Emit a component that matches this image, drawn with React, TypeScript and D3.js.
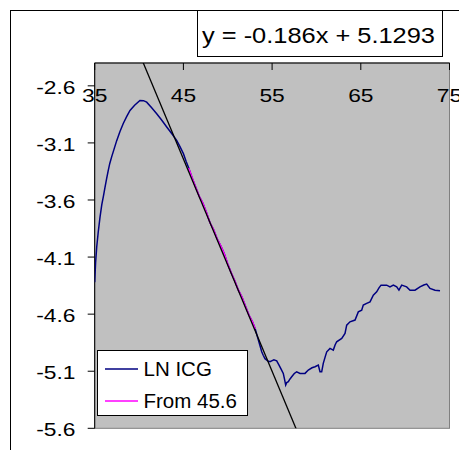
import React from "react";
import * as d3 from "d3";

const xTicks = [35, 45, 55, 65, 75];
const yTicks = [-5.6, -5.1, -4.6, -4.1, -3.6, -3.1, -2.6];

const pinkX = [45.6, 46.0, 46.4, 46.8, 47.2, 47.6, 48.0, 48.4, 48.8, 49.2, 49.6, 50.0, 50.4, 50.8, 51.2, 51.6, 52.0, 52.4, 52.8, 53.1];
const pinkY = [-3.32, -3.41, -3.49, -3.57, -3.63, -3.71, -3.80, -3.86, -3.94, -4.0, -4.07, -4.16, -4.24, -4.31, -4.39, -4.45, -4.53, -4.61, -4.67, -4.73];

const blueX = [
  35.0, 35.1, 35.23, 35.4, 35.6, 35.8, 36.0, 36.16, 36.35, 36.53, 36.7, 36.92, 37.2, 37.48, 37.85, 38.22, 38.6, 38.98, 39.5, 40.1,
  40.5, 40.86, 41.4, 41.99, 42.5, 43.12, 43.7, 44.24, 44.6, 45.0, 45.3,
  45.6, 46.0, 46.4, 46.8, 47.2, 47.6, 48.0, 48.4, 48.8, 49.2, 49.6, 50.0, 50.4, 50.8, 51.2, 51.6, 52.0, 52.4, 52.8, 53.1,
  53.5, 53.83, 54.0, 54.2, 54.5, 54.76, 54.95, 55.2, 55.52, 55.78, 56.0, 56.26, 56.4, 56.53, 56.65, 56.83, 57.0, 57.21, 57.5, 57.77,
  58.15, 58.71, 59.08, 59.5, 59.84, 60.21, 60.4, 60.59, 60.77, 61.0, 61.16, 61.53, 61.9, 62.1, 62.28, 62.85, 63.22, 63.41, 63.78, 64.35,
  64.72, 65.1, 65.28, 65.66, 66.04, 66.41, 66.79, 67.05, 67.28, 67.92, 68.29, 68.67, 69.05, 69.3, 69.61, 70.17, 70.55, 71.11, 71.67, 72.1,
  72.43, 72.8, 73.37, 73.93,
];
const blueY = [
  -4.32, -4.15, -4.01, -3.88, -3.75, -3.64, -3.56, -3.49, -3.41, -3.34, -3.28, -3.22, -3.15, -3.08, -3.0, -2.93, -2.87, -2.815, -2.77, -2.728,
  -2.73, -2.743, -2.79, -2.844, -2.895, -2.961, -3.02, -3.078, -3.13, -3.194, -3.26,
  -3.32, -3.41, -3.49, -3.57, -3.63, -3.71, -3.80, -3.86, -3.94, -4.0, -4.07, -4.16, -4.24, -4.31, -4.39, -4.45, -4.53, -4.61, -4.67, -4.73,
  -4.84, -4.93, -4.96, -4.99, -5.01, -5.017, -5.009, -5.0, -5.009, -5.046, -5.08, -5.119, -5.17, -5.221, -5.2, -5.192, -5.17, -5.149, -5.12, -5.105,
  -5.119, -5.119, -5.09, -5.07, -5.061, -5.046, -5.105, -5.105, -5.031, -4.97, -4.93, -4.9, -4.915, -4.87, -4.842, -4.813, -4.769, -4.696, -4.667, -4.652,
  -4.58, -4.565, -4.521, -4.506, -4.492, -4.434, -4.405, -4.37, -4.346, -4.346, -4.361, -4.346, -4.361, -4.39, -4.346, -4.361, -4.39, -4.39, -4.361, -4.345,
  -4.337, -4.375, -4.39, -4.396,
];

const trendSlope = -0.186;
const trendIntercept = 5.1293;
const equationText = "y = -0.186x + 5.1293";
const legendLabels = ["LN ICG", "From 45.6"];

const W = 459;
const H = 450;
const plot = { left: 94.7, right: 449.5, top: 63, bottom: 428.3 };
const FONT = "'Liberation Sans', Arial, sans-serif";
const TICK_STRETCH = 1.2;

export default function App() {
  const x = d3.scaleLinear().domain([35, 75]).range([plot.left, plot.right]);
  const y = d3.scaleLinear().domain([-5.6, -2.4]).range([plot.bottom, plot.top]);
  const line = d3
    .line<[number, number]>()
    .x((d) => x(d[0]))
    .y((d) => y(d[1]));
  const blue = blueX.map((v, i) => [v, blueY[i]] as [number, number]);
  const pink = pinkX.map((v, i) => [v, pinkY[i]] as [number, number]);
  const trend: [number, number][] = [35, 75].map((v) => [v, trendSlope * v + trendIntercept]);

  return (
    <svg
      width={W}
      height={H}
      style={{ position: "absolute", left: 0, top: 0, background: "#fff" }}
      fontFamily={FONT}
    >
      <defs>
        <clipPath id="plotClip">
          <rect x={plot.left} y={plot.top} width={plot.right - plot.left} height={plot.bottom - plot.top} />
        </clipPath>
      </defs>
      <rect x={10.5} y={10.5} width={470} height={470} fill="#fff" stroke="#000" strokeWidth={1} />
      <rect x={197.5} y={10.5} width={245} height={46} fill="#fff" stroke="#000" strokeWidth={1} />
      <text x={202} y={42.7} fontSize={22.5} fill="#000" textLength={233} lengthAdjust="spacingAndGlyphs">
        {equationText}
      </text>

      <rect
        x={plot.left}
        y={plot.top}
        width={plot.right - plot.left}
        height={plot.bottom - plot.top}
        fill="#c0c0c0"
        stroke="#808080"
        strokeWidth={1}
      />
      {/* axes */}
      <line x1={plot.left} x2={plot.left} y1={plot.top} y2={plot.bottom} stroke="#000" strokeWidth={1} />
      <line x1={plot.left} x2={plot.right} y1={plot.top} y2={plot.top} stroke="#000" strokeWidth={1} />
      {xTicks.map((t) => (
        <g key={"xt" + t}>
          <line x1={x(t)} x2={x(t)} y1={plot.top} y2={plot.top + 7} stroke="#000" strokeWidth={1} />
          <text
            transform={`translate(${x(t)},101.7) scale(${TICK_STRETCH},1)`}
            fontSize={19}
            textAnchor="middle"
            fill="#000"
          >
            {t}
          </text>
        </g>
      ))}
      {yTicks.map((t) => (
        <g key={"yt" + t}>
          <line x1={plot.left - 7} x2={plot.left} y1={y(t)} y2={y(t)} stroke="#000" strokeWidth={1} />
          <text
            transform={`translate(75.5,${y(t) + 7.8}) scale(${TICK_STRETCH},1)`}
            fontSize={19}
            textAnchor="end"
            fill="#000"
          >
            {t.toFixed(1)}
          </text>
        </g>
      ))}

      <g clipPath="url(#plotClip)">
        <path d={line(blue) || ""} fill="none" stroke="#000080" strokeWidth={1.5} />
        <path d={line(pink) || ""} fill="none" stroke="#ff00ff" strokeWidth={1.5} />
        <path d={line(trend) || ""} fill="none" stroke="#000" strokeWidth={1.3} />
      </g>

      <rect x={97.5} y={350.5} width={150} height={65} fill="#fff" stroke="#000" strokeWidth={1} />
      <line x1={105} x2={138} y1={369} y2={369} stroke="#000080" strokeWidth={1.5} />
      <text x={143.5} y={375.5} fontSize={20.5} fill="#000">{legendLabels[0]}</text>
      <line x1={105} x2={138} y1={401} y2={401} stroke="#ff00ff" strokeWidth={1.5} />
      <text x={143.5} y={407.5} fontSize={20.5} fill="#000">{legendLabels[1]}</text>
    </svg>
  );
}
